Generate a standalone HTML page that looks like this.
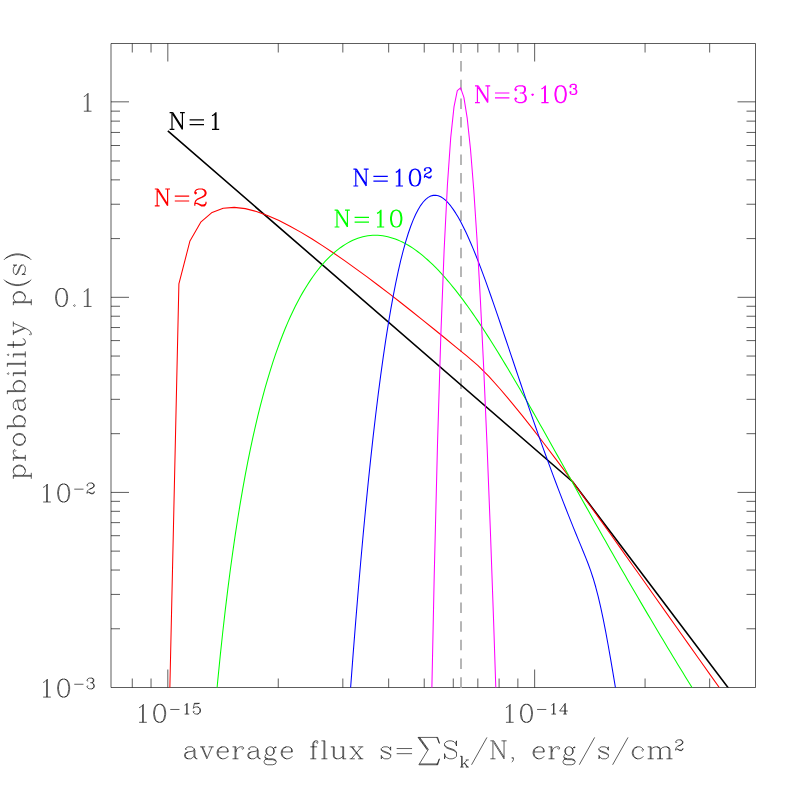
<!DOCTYPE html>
<html lang="en"><head><meta charset="utf-8"><title>Probability distribution of average flux</title>
<style>html,body{margin:0;padding:0;background:#fff;}body{width:797px;height:797px;overflow:hidden;font-family:"Liberation Serif",serif;}svg{display:block;}</style>
</head><body>
<svg width="797" height="797" viewBox="0 0 797 797" role="img" aria-label="Probability p(s) of average flux s for N=1, 2, 10, 100, 3000 sources"><path d="M111.0 43.5H755.5V687.5H111.0ZM132.27 687.5v-9.0M132.27 43.5v9.0M151.04 687.5v-9.0M151.04 43.5v9.0M167.82 687.5v-18.0M167.82 43.5v18.0M278.25 687.5v-9.0M278.25 43.5v9.0M342.84 687.5v-9.0M342.84 43.5v9.0M388.67 687.5v-9.0M388.67 43.5v9.0M424.22 687.5v-9.0M424.22 43.5v9.0M453.27 687.5v-9.0M453.27 43.5v9.0M477.83 687.5v-9.0M477.83 43.5v9.0M499.10 687.5v-9.0M499.10 43.5v9.0M517.86 687.5v-9.0M517.86 43.5v9.0M534.65 687.5v-18.0M534.65 43.5v18.0M645.07 687.5v-9.0M645.07 43.5v9.0M709.67 687.5v-9.0M709.67 43.5v9.0M111.0 628.77h9.0M755.5 628.77h-9.0M111.0 594.42h9.0M755.5 594.42h-9.0M111.0 570.04h9.0M755.5 570.04h-9.0M111.0 551.14h9.0M755.5 551.14h-9.0M111.0 535.69h9.0M755.5 535.69h-9.0M111.0 522.63h9.0M755.5 522.63h-9.0M111.0 511.32h9.0M755.5 511.32h-9.0M111.0 501.34h9.0M755.5 501.34h-9.0M111.0 492.41h18.0M755.5 492.41h-18.0M111.0 433.68h9.0M755.5 433.68h-9.0M111.0 399.33h9.0M755.5 399.33h-9.0M111.0 374.95h9.0M755.5 374.95h-9.0M111.0 356.05h9.0M755.5 356.05h-9.0M111.0 340.60h9.0M755.5 340.60h-9.0M111.0 327.54h9.0M755.5 327.54h-9.0M111.0 316.22h9.0M755.5 316.22h-9.0M111.0 306.25h9.0M755.5 306.25h-9.0M111.0 297.32h18.0M755.5 297.32h-18.0M111.0 238.59h9.0M755.5 238.59h-9.0M111.0 204.24h9.0M755.5 204.24h-9.0M111.0 179.86h9.0M755.5 179.86h-9.0M111.0 160.96h9.0M755.5 160.96h-9.0M111.0 145.51h9.0M755.5 145.51h-9.0M111.0 132.45h9.0M755.5 132.45h-9.0M111.0 121.13h9.0M755.5 121.13h-9.0M111.0 111.15h9.0M755.5 111.15h-9.0M111.0 101.83h18.0M755.5 101.83h-18.0" fill="none" stroke="#000" stroke-width="0.64"/>
<path d="M83.83 96.67L85.54 95.82L88.10 93.25L88.10 111.21M87.25 94.11L87.25 111.21M83.83 111.21L91.52 111.21" fill="none" stroke="#000" stroke-width="0.64" stroke-linejoin="round"/>
<path d="M60.74 288.49L58.18 289.35L56.47 291.91L55.61 296.19L55.61 298.75L56.47 303.03L58.18 305.59L60.74 306.45L62.45 306.45L65.02 305.59L66.73 303.03L67.58 298.75L67.58 296.19L66.73 291.91L65.02 289.35L62.45 288.49L60.74 288.49M60.74 288.49L59.03 289.35L58.18 290.20L57.32 291.91L56.47 296.19L56.47 298.75L57.32 303.03L58.18 304.74L59.03 305.59L60.74 306.45M62.45 306.45L64.16 305.59L65.02 304.74L65.88 303.03L66.73 298.75L66.73 296.19L65.88 291.91L65.02 290.20L64.16 289.35L62.45 288.49M74.42 304.74L73.57 305.59L74.42 306.45L75.28 305.59L74.42 304.74M83.83 291.91L85.54 291.06L88.10 288.49L88.10 306.45M87.25 289.35L87.25 306.45M83.83 306.45L91.53 306.45" fill="none" stroke="#000" stroke-width="0.64" stroke-linejoin="round"/>
<path d="M43.13 487.45L44.84 486.60L47.41 484.03L47.41 501.99M46.55 484.89L46.55 501.99M43.13 501.99L50.83 501.99M62.80 484.03L60.23 484.89L58.52 487.45L57.67 491.73L57.67 494.29L58.52 498.57L60.23 501.13L62.80 501.99L64.51 501.99L67.07 501.13L68.78 498.57L69.64 494.29L69.64 491.73L68.78 487.45L67.07 484.89L64.51 484.03L62.80 484.03M62.80 484.03L61.09 484.89L60.23 485.74L59.38 487.45L58.52 491.73L58.52 494.29L59.38 498.57L60.23 500.28L61.09 501.13L62.80 501.99M64.51 501.99L66.22 501.13L67.07 500.28L67.93 498.57L68.78 494.29L68.78 491.73L67.93 487.45L67.07 485.74L66.22 484.89L64.51 484.03M74.25 489.16L83.49 489.16M87.59 485.06L88.11 485.57L87.59 486.08L87.08 485.57L87.08 485.06L87.59 484.03L88.11 483.52L89.64 483.01L91.70 483.01L93.23 483.52L93.75 484.03L94.26 485.06L94.26 486.08L93.75 487.11L92.21 488.14L89.64 489.16L88.62 489.67L87.59 490.70L87.08 492.24L87.08 493.78M91.70 483.01L92.72 483.52L93.23 484.03L93.75 485.06L93.75 486.08L93.23 487.11L91.70 488.14L89.64 489.16M87.08 492.75L87.59 492.24L88.62 492.24L91.18 493.27L92.72 493.27L93.75 492.75L94.26 492.24M88.62 492.24L91.18 493.78L93.23 493.78L93.75 493.27L94.26 492.24L94.26 491.21" fill="none" stroke="#000" stroke-width="0.64" stroke-linejoin="round"/>
<path d="M43.13 682.54L44.84 681.69L47.41 679.12L47.41 697.08M46.55 679.98L46.55 697.08M43.13 697.08L50.83 697.08M62.80 679.12L60.23 679.98L58.52 682.54L57.67 686.82L57.67 689.38L58.52 693.66L60.23 696.22L62.80 697.08L64.51 697.08L67.07 696.22L68.78 693.66L69.64 689.38L69.64 686.82L68.78 682.54L67.07 679.98L64.51 679.12L62.80 679.12M62.80 679.12L61.09 679.98L60.23 680.83L59.38 682.54L58.52 686.82L58.52 689.38L59.38 693.66L60.23 695.37L61.09 696.22L62.80 697.08M64.51 697.08L66.22 696.22L67.07 695.37L67.93 693.66L68.78 689.38L68.78 686.82L67.93 682.54L67.07 680.83L66.22 679.98L64.51 679.12M74.25 684.25L83.49 684.25M87.59 680.15L88.11 680.66L87.59 681.17L87.08 680.66L87.08 680.15L87.59 679.12L88.11 678.61L89.64 678.10L91.70 678.10L93.23 678.61L93.75 679.64L93.75 681.17L93.23 682.20L91.70 682.71L90.16 682.71M91.70 678.10L92.72 678.61L93.23 679.64L93.23 681.17L92.72 682.20L91.70 682.71M91.70 682.71L92.72 683.23L93.75 684.25L94.26 685.28L94.26 686.82L93.75 687.84L93.23 688.36L91.70 688.87L89.64 688.87L88.11 688.36L87.59 687.84L87.08 686.82L87.08 686.30L87.59 685.79L88.11 686.30L87.59 686.82M93.23 683.74L93.75 685.28L93.75 686.82L93.23 687.84L92.72 688.36L91.70 688.87" fill="none" stroke="#000" stroke-width="0.64" stroke-linejoin="round"/>
<path d="M139.12 707.76L140.83 706.91L143.40 704.34L143.40 722.30M142.54 705.20L142.54 722.30M139.12 722.30L146.82 722.30M158.79 704.34L156.22 705.20L154.51 707.76L153.66 712.04L153.66 714.60L154.51 718.88L156.22 721.44L158.79 722.30L160.50 722.30L163.06 721.44L164.77 718.88L165.63 714.60L165.63 712.04L164.77 707.76L163.06 705.20L160.50 704.34L158.79 704.34M158.79 704.34L157.08 705.20L156.22 706.05L155.37 707.76L154.51 712.04L154.51 714.60L155.37 718.88L156.22 720.59L157.08 721.44L158.79 722.30M160.50 722.30L162.21 721.44L163.06 720.59L163.92 718.88L164.77 714.60L164.77 712.04L163.92 707.76L163.06 706.05L162.21 705.20L160.50 704.34M170.25 709.47L179.48 709.47M184.61 705.37L185.64 704.86L187.17 703.32L187.17 714.09M186.66 703.83L186.66 714.09M184.61 714.09L189.23 714.09M194.36 703.32L193.33 708.45M193.33 708.45L194.36 707.42L195.90 706.91L197.43 706.91L198.97 707.42L200.00 708.45L200.51 709.99L200.51 711.01L200.00 712.55L198.97 713.58L197.43 714.09L195.90 714.09L194.36 713.58L193.84 713.07L193.33 712.04L193.33 711.53L193.84 711.01L194.36 711.53L193.84 712.04M197.43 706.91L198.46 707.42L199.49 708.45L200.00 709.99L200.00 711.01L199.49 712.55L198.46 713.58L197.43 714.09M194.36 703.32L199.49 703.32M194.36 703.83L196.92 703.83L199.49 703.32" fill="none" stroke="#000" stroke-width="0.64" stroke-linejoin="round"/>
<path d="M505.95 707.76L507.66 706.91L510.22 704.34L510.22 722.30M509.37 705.20L509.37 722.30M505.95 722.30L513.64 722.30M525.61 704.34L523.05 705.20L521.34 707.76L520.48 712.04L520.48 714.60L521.34 718.88L523.05 721.44L525.61 722.30L527.32 722.30L529.89 721.44L531.60 718.88L532.45 714.60L532.45 712.04L531.60 707.76L529.89 705.20L527.32 704.34L525.61 704.34M525.61 704.34L523.90 705.20L523.05 706.05L522.19 707.76L521.34 712.04L521.34 714.60L522.19 718.88L523.05 720.59L523.90 721.44L525.61 722.30M527.32 722.30L529.03 721.44L529.89 720.59L530.74 718.88L531.60 714.60L531.60 712.04L530.74 707.76L529.89 706.05L529.03 705.20L527.32 704.34M537.07 709.47L546.31 709.47M551.44 705.37L552.46 704.86L554.00 703.32L554.00 714.09M553.49 703.83L553.49 714.09M551.44 714.09L556.05 714.09M564.77 704.34L564.77 714.09M565.29 703.32L565.29 714.09M565.29 703.32L559.64 711.01L567.85 711.01M563.23 714.09L566.83 714.09" fill="none" stroke="#000" stroke-width="0.64" stroke-linejoin="round"/>
<path d="M186.33 748.54L186.33 749.39L185.47 749.39L185.47 748.54L186.33 747.68L188.04 746.83L191.46 746.83L193.17 747.68L194.02 748.54L194.88 750.25L194.88 756.23L195.73 757.94L196.59 758.80M194.02 748.54L194.02 756.23L194.88 757.94L196.59 758.80L197.44 758.80M194.02 750.25L193.17 751.10L188.04 751.96L185.47 752.81L184.62 754.52L184.62 756.23L185.47 757.94L188.04 758.80L190.60 758.80L192.31 757.94L194.02 756.23M188.04 751.96L186.33 752.81L185.47 754.52L185.47 756.23L186.33 757.94L188.04 758.80M201.72 746.83L206.85 758.80M202.57 746.83L206.85 757.09M211.98 746.83L206.85 758.80M200.01 746.83L205.14 746.83M208.56 746.83L213.69 746.83M217.96 751.96L228.22 751.96L228.22 750.25L227.37 748.54L226.51 747.68L224.80 746.83L222.24 746.83L219.67 747.68L217.96 749.39L217.11 751.96L217.11 753.67L217.96 756.23L219.67 757.94L222.24 758.80L223.95 758.80L226.51 757.94L228.22 756.23M227.37 751.96L227.37 749.39L226.51 747.68M222.24 746.83L220.53 747.68L218.82 749.39L217.96 751.96L217.96 753.67L218.82 756.23L220.53 757.94L222.24 758.80M235.06 746.83L235.06 758.80M235.92 746.83L235.92 758.80M235.92 751.96L236.77 749.39L238.48 747.68L240.19 746.83L242.76 746.83L243.61 747.68L243.61 748.54L242.76 749.39L241.90 748.54L242.76 747.68M232.50 746.83L235.92 746.83M232.50 758.80L238.48 758.80M249.60 748.54L249.60 749.39L248.74 749.39L248.74 748.54L249.60 747.68L251.31 746.83L254.73 746.83L256.44 747.68L257.29 748.54L258.15 750.25L258.15 756.23L259.00 757.94L259.86 758.80M257.29 748.54L257.29 756.23L258.15 757.94L259.86 758.80L260.71 758.80M257.29 750.25L256.44 751.10L251.31 751.96L248.74 752.81L247.89 754.52L247.89 756.23L248.74 757.94L251.31 758.80L253.87 758.80L255.58 757.94L257.29 756.23M251.31 751.96L249.60 752.81L248.74 754.52L248.74 756.23L249.60 757.94L251.31 758.80M269.26 746.83L267.55 747.68L266.70 748.54L265.84 750.25L265.84 751.96L266.70 753.67L267.55 754.52L269.26 755.38L270.97 755.38L272.68 754.52L273.54 753.67L274.39 751.96L274.39 750.25L273.54 748.54L272.68 747.68L270.97 746.83L269.26 746.83M267.55 747.68L266.70 749.39L266.70 752.81L267.55 754.52M272.68 754.52L273.54 752.81L273.54 749.39L272.68 747.68M273.54 748.54L274.39 747.68L276.10 746.83L276.10 747.68L274.39 747.68M266.70 753.67L265.84 754.52L264.99 756.23L264.99 757.09L265.84 758.80L268.41 759.65L272.68 759.65L275.25 760.51L276.10 761.36M264.99 757.09L265.84 757.94L268.41 758.80L272.68 758.80L275.25 759.65L276.10 761.36L276.10 762.22L275.25 763.93L272.68 764.78L267.55 764.78L264.99 763.93L264.13 762.22L264.13 761.36L264.99 759.65L267.55 758.80M282.09 751.96L292.35 751.96L292.35 750.25L291.49 748.54L290.64 747.68L288.93 746.83L286.36 746.83L283.80 747.68L282.09 749.39L281.23 751.96L281.23 753.67L282.09 756.23L283.80 757.94L286.36 758.80L288.07 758.80L290.64 757.94L292.35 756.23M291.49 751.96L291.49 749.39L290.64 747.68M286.36 746.83L284.65 747.68L282.94 749.39L282.09 751.96L282.09 753.67L282.94 756.23L284.65 757.94L286.36 758.80M317.14 741.70L316.29 742.55L317.14 743.41L318.00 742.55L318.00 741.70L317.14 740.84L315.43 740.84L313.72 741.70L312.87 743.41L312.87 758.80M315.43 740.84L314.58 741.70L313.72 743.41L313.72 758.80M310.30 746.83L317.14 746.83M310.30 758.80L316.29 758.80M323.98 740.84L323.98 758.80M324.84 740.84L324.84 758.80M321.42 740.84L324.84 740.84M321.42 758.80L327.40 758.80M333.39 746.83L333.39 756.23L334.24 757.94L336.81 758.80L338.52 758.80L341.08 757.94L342.79 756.23M334.24 746.83L334.24 756.23L335.10 757.94L336.81 758.80M342.79 746.83L342.79 758.80M343.65 746.83L343.65 758.80M330.82 746.83L334.24 746.83M340.23 746.83L343.65 746.83M342.79 758.80L346.21 758.80M351.34 746.83L360.75 758.80M352.20 746.83L361.60 758.80M361.60 746.83L351.34 758.80M349.63 746.83L354.76 746.83M358.18 746.83L363.31 746.83M349.63 758.80L354.76 758.80M358.18 758.80L363.31 758.80M389.82 748.54L390.67 746.83L390.67 750.25L389.82 748.54L388.96 747.68L387.25 746.83L383.83 746.83L382.12 747.68L381.27 748.54L381.27 750.25L382.12 751.10L383.83 751.96L388.11 753.67L389.82 754.52L390.67 755.38M381.27 749.39L382.12 750.25L383.83 751.10L388.11 752.81L389.82 753.67L390.67 754.52L390.67 757.09L389.82 757.94L388.11 758.80L384.69 758.80L382.98 757.94L382.12 757.09L381.27 755.38L381.27 758.80L382.12 757.09M396.66 748.54L412.05 748.54M396.66 753.67L412.05 753.67M419.74 737.42L428.29 749.39L418.89 764.78M418.89 737.42L427.44 749.39M418.03 737.42L427.44 750.25M418.03 737.42L437.70 737.42L439.41 743.41L436.84 737.42M419.74 763.93L437.70 763.93M418.89 764.78L437.70 764.78L439.41 758.80L436.84 764.78M455.65 743.41L456.51 740.84L456.51 745.97L455.65 743.41L453.94 741.70L451.38 740.84L448.81 740.84L446.25 741.70L444.54 743.41L444.54 745.12L445.39 746.83L446.25 747.68L447.96 748.54L453.09 750.25L454.80 751.10L456.51 752.81M444.54 745.12L446.25 746.83L447.96 747.68L453.09 749.39L454.80 750.25L455.65 751.10L456.51 752.81L456.51 756.23L454.80 757.94L452.23 758.80L449.67 758.80L447.10 757.94L445.39 756.23L444.54 753.67L444.54 758.80L445.39 756.23M461.64 756.32L461.64 767.09M462.15 756.32L462.15 767.09M467.28 759.91L462.15 765.04M464.71 762.99L467.79 767.09M464.20 762.99L467.28 767.09M460.10 756.32L462.15 756.32M465.74 759.91L468.82 759.91M460.10 767.09L463.69 767.09M465.74 767.09L468.82 767.09M486.94 737.42L471.55 764.78M492.93 740.84L492.93 758.80M493.78 740.84L504.04 757.09M493.78 742.55L504.04 758.80M504.04 740.84L504.04 758.80M490.36 740.84L493.78 740.84M501.48 740.84L506.61 740.84M490.36 758.80L495.49 758.80M512.59 758.80L511.74 757.94L512.59 757.09L513.45 757.94L513.45 759.65L512.59 761.36L511.74 762.22M533.97 751.96L544.23 751.96L544.23 750.25L543.37 748.54L542.52 747.68L540.81 746.83L538.24 746.83L535.68 747.68L533.97 749.39L533.11 751.96L533.11 753.67L533.97 756.23L535.68 757.94L538.24 758.80L539.95 758.80L542.52 757.94L544.23 756.23M543.37 751.96L543.37 749.39L542.52 747.68M538.24 746.83L536.53 747.68L534.82 749.39L533.97 751.96L533.97 753.67L534.82 756.23L536.53 757.94L538.24 758.80M551.07 746.83L551.07 758.80M551.92 746.83L551.92 758.80M551.92 751.96L552.78 749.39L554.49 747.68L556.20 746.83L558.76 746.83L559.62 747.68L559.62 748.54L558.76 749.39L557.91 748.54L558.76 747.68M548.50 746.83L551.92 746.83M548.50 758.80L554.49 758.80M568.17 746.83L566.46 747.68L565.60 748.54L564.75 750.25L564.75 751.96L565.60 753.67L566.46 754.52L568.17 755.38L569.88 755.38L571.59 754.52L572.44 753.67L573.30 751.96L573.30 750.25L572.44 748.54L571.59 747.68L569.88 746.83L568.17 746.83M566.46 747.68L565.60 749.39L565.60 752.81L566.46 754.52M571.59 754.52L572.44 752.81L572.44 749.39L571.59 747.68M572.44 748.54L573.30 747.68L575.01 746.83L575.01 747.68L573.30 747.68M565.60 753.67L564.75 754.52L563.89 756.23L563.89 757.09L564.75 758.80L567.31 759.65L571.59 759.65L574.15 760.51L575.01 761.36M563.89 757.09L564.75 757.94L567.31 758.80L571.59 758.80L574.15 759.65L575.01 761.36L575.01 762.22L574.15 763.93L571.59 764.78L566.46 764.78L563.89 763.93L563.04 762.22L563.04 761.36L563.89 759.65L566.46 758.80M594.67 737.42L579.28 764.78M607.50 748.54L608.35 746.83L608.35 750.25L607.50 748.54L606.64 747.68L604.93 746.83L601.51 746.83L599.80 747.68L598.95 748.54L598.95 750.25L599.80 751.10L601.51 751.96L605.79 753.67L607.50 754.52L608.35 755.38M598.95 749.39L599.80 750.25L601.51 751.10L605.79 752.81L607.50 753.67L608.35 754.52L608.35 757.09L607.50 757.94L605.79 758.80L602.37 758.80L600.66 757.94L599.80 757.09L598.95 755.38L598.95 758.80L599.80 757.09M628.02 737.42L612.63 764.78M642.55 749.39L641.70 750.25L642.55 751.10L643.41 750.25L643.41 749.39L641.70 747.68L639.99 746.83L637.42 746.83L634.86 747.68L633.15 749.39L632.29 751.96L632.29 753.67L633.15 756.23L634.86 757.94L637.42 758.80L639.13 758.80L641.70 757.94L643.41 756.23M637.42 746.83L635.71 747.68L634.00 749.39L633.15 751.96L633.15 753.67L634.00 756.23L635.71 757.94L637.42 758.80M650.25 746.83L650.25 758.80M651.10 746.83L651.10 758.80M651.10 749.39L652.81 747.68L655.38 746.83L657.09 746.83L659.65 747.68L660.51 749.39L660.51 758.80M657.09 746.83L658.80 747.68L659.65 749.39L659.65 758.80M660.51 749.39L662.22 747.68L664.78 746.83L666.49 746.83L669.06 747.68L669.91 749.39L669.91 758.80M666.49 746.83L668.20 747.68L669.06 749.39L669.06 758.80M647.68 746.83L651.10 746.83M647.68 758.80L653.67 758.80M657.09 758.80L663.07 758.80M666.49 758.80L672.48 758.80M676.24 741.87L676.75 742.38L676.24 742.90L675.73 742.38L675.73 741.87L676.24 740.84L676.75 740.33L678.29 739.82L680.35 739.82L681.88 740.33L682.40 740.84L682.91 741.87L682.91 742.90L682.40 743.92L680.86 744.95L678.29 745.97L677.27 746.49L676.24 747.51L675.73 749.05L675.73 750.59M680.35 739.82L681.37 740.33L681.88 740.84L682.40 741.87L682.40 742.90L681.88 743.92L680.35 744.95L678.29 745.97M675.73 749.57L676.24 749.05L677.27 749.05L679.83 750.08L681.37 750.08L682.40 749.57L682.91 749.05M677.27 749.05L679.83 750.59L681.88 750.59L682.40 750.08L682.91 749.05L682.91 748.03" fill="none" stroke="#000" stroke-width="0.64" stroke-linejoin="round"/>
<path d="M13.33 476.22L31.29 476.22M13.33 475.37L31.29 475.37M15.89 475.37L14.19 473.66L13.33 471.95L13.33 470.24L14.19 467.67L15.89 465.96L18.46 465.11L20.17 465.11L22.73 465.96L24.45 467.67L25.30 470.24L25.30 471.95L24.45 473.66L22.73 475.37M13.33 470.24L14.19 468.53L15.89 466.82L18.46 465.96L20.17 465.96L22.73 466.82L24.45 468.53L25.30 470.24M13.33 478.79L13.33 475.37M31.29 478.79L31.29 472.80M13.33 458.27L25.30 458.27M13.33 457.41L25.30 457.41M18.46 457.41L15.89 456.56L14.19 454.85L13.33 453.14L13.33 450.57L14.19 449.72L15.04 449.72L15.89 450.57L15.04 451.43L14.19 450.57M13.33 460.83L13.33 457.41M25.30 460.83L25.30 454.85M13.33 440.31L14.19 442.88L15.89 444.59L18.46 445.44L20.17 445.44L22.73 444.59L24.45 442.88L25.30 440.31L25.30 438.60L24.45 436.04L22.73 434.33L20.17 433.47L18.46 433.47L15.89 434.33L14.19 436.04L13.33 438.60L13.33 440.31M13.33 440.31L14.19 442.02L15.89 443.73L18.46 444.59L20.17 444.59L22.73 443.73L24.45 442.02L25.30 440.31M25.30 438.60L24.45 436.89L22.73 435.18L20.17 434.33L18.46 434.33L15.89 435.18L14.19 436.89L13.33 438.60M7.35 426.63L25.30 426.63M7.35 425.78L25.30 425.78M15.89 425.78L14.19 424.07L13.33 422.36L13.33 420.65L14.19 418.08L15.89 416.37L18.46 415.52L20.17 415.52L22.73 416.37L24.45 418.08L25.30 420.65L25.30 422.36L24.45 424.07L22.73 425.78M13.33 420.65L14.19 418.94L15.89 417.23L18.46 416.37L20.17 416.37L22.73 417.23L24.45 418.94L25.30 420.65M7.35 429.20L7.35 425.78M15.04 408.68L15.89 408.68L15.89 409.53L15.04 409.53L14.19 408.68L13.33 406.97L13.33 403.55L14.19 401.84L15.04 400.98L16.75 400.13L22.73 400.13L24.45 399.27L25.30 398.42M15.04 400.98L22.73 400.98L24.45 400.13L25.30 398.42L25.30 397.56M16.75 400.98L17.61 401.84L18.46 406.97L19.32 409.53L21.02 410.39L22.73 410.39L24.45 409.53L25.30 406.97L25.30 404.40L24.45 402.69L22.73 400.98M18.46 406.97L19.32 408.68L21.02 409.53L22.73 409.53L24.45 408.68L25.30 406.97M7.35 391.58L25.30 391.58M7.35 390.72L25.30 390.72M15.89 390.72L14.19 389.01L13.33 387.30L13.33 385.59L14.19 383.03L15.89 381.32L18.46 380.46L20.17 380.46L22.73 381.32L24.45 383.03L25.30 385.59L25.30 387.30L24.45 389.01L22.73 390.72M13.33 385.59L14.19 383.88L15.89 382.17L18.46 381.32L20.17 381.32L22.73 382.17L24.45 383.88L25.30 385.59M7.35 394.14L7.35 390.72M7.35 373.62L8.20 374.48L9.05 373.62L8.20 372.77L7.35 373.62M13.33 373.62L25.30 373.62M13.33 372.77L25.30 372.77M13.33 376.19L13.33 372.77M25.30 376.19L25.30 370.20M7.35 364.22L25.30 364.22M7.35 363.36L25.30 363.36M7.35 366.78L7.35 363.36M25.30 366.78L25.30 360.80M7.35 354.81L8.20 355.67L9.05 354.81L8.20 353.96L7.35 354.81M13.33 354.81L25.30 354.81M13.33 353.96L25.30 353.96M13.33 357.38L13.33 353.96M25.30 357.38L25.30 351.39M7.35 345.41L21.88 345.41L24.45 344.55L25.30 342.84L25.30 341.13L24.45 339.42L22.73 338.57M7.35 344.55L21.88 344.55L24.45 343.70L25.30 342.84M13.33 347.97L13.33 341.13M13.33 333.44L25.30 328.31M13.33 332.58L23.59 328.31M13.33 323.18L25.30 328.31L28.72 330.02L30.43 331.73L31.29 333.44L31.29 334.29L30.43 335.15L29.57 334.29L30.43 333.44M13.33 335.15L13.33 330.02M13.33 326.60L13.33 321.47M13.33 302.66L31.29 302.66M13.33 301.80L31.29 301.80M15.89 301.80L14.19 300.09L13.33 298.38L13.33 296.67L14.19 294.11L15.89 292.40L18.46 291.54L20.17 291.54L22.73 292.40L24.45 294.11L25.30 296.67L25.30 298.38L24.45 300.09L22.73 301.80M13.33 296.67L14.19 294.96L15.89 293.25L18.46 292.40L20.17 292.40L22.73 293.25L24.45 294.96L25.30 296.67M13.33 305.22L13.33 301.80M31.29 305.22L31.29 299.24M3.93 279.57L5.64 281.28L8.20 282.99L11.62 284.70L15.89 285.56L19.32 285.56L23.59 284.70L27.01 282.99L29.57 281.28L31.29 279.57M5.64 281.28L9.05 282.99L11.62 283.85L15.89 284.70L19.32 284.70L23.59 283.85L26.16 282.99L29.57 281.28M15.04 265.89L13.33 265.04L16.75 265.04L15.04 265.89L14.19 266.75L13.33 268.46L13.33 271.88L14.19 273.59L15.04 274.44L16.75 274.44L17.61 273.59L18.46 271.88L20.17 267.60L21.02 265.89L21.88 265.04M15.89 274.44L16.75 273.59L17.61 271.88L19.32 267.60L20.17 265.89L21.02 265.04L23.59 265.04L24.45 265.89L25.30 267.60L25.30 271.02L24.45 272.73L23.59 273.59L21.88 274.44L25.30 274.44L23.59 273.59M3.93 259.91L5.64 258.20L8.20 256.49L11.62 254.78L15.89 253.92L19.32 253.92L23.59 254.78L27.01 256.49L29.57 258.20L31.29 259.91M5.64 258.20L9.05 256.49L11.62 255.63L15.89 254.78L19.32 254.78L23.59 255.63L26.16 256.49L29.57 258.20" fill="none" stroke="#000" stroke-width="0.64" stroke-linejoin="round"/>
<clipPath id="fr"><rect x="111.0" y="43.5" width="644.5" height="644.0"/></clipPath>
<path d="M461.0 687.7V43.5" fill="none" stroke="#b6b6b6" stroke-width="2" stroke-dasharray="10.5 8.17"/>
<path clip-path="url(#fr)" d="M167.82 130.87L572.60 481.77L730.95 691.47" fill="none" stroke="#000" stroke-width="1.6" stroke-linejoin="round"/>
<path clip-path="url(#fr)" d="M167.82 779.28L178.89 283.98L189.96 240.95L201.03 221.81L212.10 212.46L223.17 208.30L234.24 207.37L245.31 208.62L256.38 211.44L267.45 215.44L278.52 220.33L289.59 225.95L300.66 232.13L311.73 238.81L322.80 245.86L333.87 253.24L344.94 260.91L356.01 268.82L367.08 276.94L378.15 285.23L389.22 293.69L400.29 302.28L411.36 310.99L422.43 319.82L433.50 328.73L444.57 337.72L455.64 346.80L466.71 355.94L477.78 365.30L488.85 376.42L499.92 388.75L510.99 401.83L522.06 415.42L533.13 429.42L544.20 443.73L555.27 458.32L566.34 473.16L577.41 488.22L588.48 503.45L599.55 518.83L610.62 534.30L621.69 549.84L632.76 565.44L643.83 581.06L654.90 596.70L665.97 612.35L677.04 627.99L688.11 643.63L699.18 659.24L710.25 674.84L721.32 690.41L732.39 705.95L743.46 721.47L754.53 736.95L765.60 752.41L776.67 767.83L787.74 783.22L798.81 798.57L809.88 813.90L820.95 829.19" fill="none" stroke="#ff0000" stroke-width="1.05" stroke-linejoin="round"/>
<path clip-path="url(#fr)" d="M167.82 1858.04L170.32 1858.04L172.82 1858.04L175.32 1858.04L177.82 1693.75L180.32 1538.55L182.82 1413.91L185.32 1310.38L187.82 1222.55L190.32 1146.46L192.82 1079.82L195.32 1020.48L197.82 967.46L200.32 919.72L202.82 876.25L205.32 836.55L207.82 800.15L210.32 766.62L212.82 735.50L215.32 706.66L217.82 679.88L220.32 654.88L222.82 631.49L225.32 609.63L227.82 589.07L230.32 569.75L232.82 551.56L235.32 534.40L237.82 518.21L240.32 502.89L242.82 488.40L245.32 474.70L247.82 461.68L250.32 449.36L252.82 437.63L255.32 426.51L257.82 415.94L260.32 405.90L262.82 396.32L265.32 387.22L267.82 378.56L270.32 370.31L272.82 362.45L275.32 354.94L277.82 347.80L280.32 340.99L282.82 334.50L285.32 328.31L287.82 322.41L290.32 316.79L292.82 311.42L295.32 306.32L297.82 301.44L300.32 296.81L302.82 292.38L305.32 288.18L307.82 284.18L310.32 280.36L312.82 276.74L315.32 273.30L317.82 270.03L320.32 266.92L322.82 263.99L325.32 261.21L327.82 258.59L330.32 256.12L332.82 253.80L335.32 251.62L337.82 249.59L340.32 247.70L342.82 245.95L345.32 244.34L347.82 242.86L350.32 241.52L352.82 240.32L355.32 239.24L357.82 238.30L360.32 237.48L362.82 236.80L365.32 236.24L367.82 235.81L370.32 235.50L372.82 235.32L375.32 235.26L377.82 235.32L380.32 235.50L382.82 235.80L385.32 236.21L387.82 236.75L390.32 237.39L392.82 238.15L395.32 239.03L397.82 240.01L400.32 241.11L402.82 242.31L405.32 243.62L407.82 245.04L410.32 246.56L412.82 248.18L415.32 249.90L417.82 251.73L420.32 253.65L422.82 255.67L425.32 257.78L427.82 259.99L430.32 262.29L432.82 264.68L435.32 267.16L437.82 269.72L440.32 272.37L442.82 275.10L445.32 277.91L447.82 280.80L450.32 283.77L452.82 286.81L455.32 289.93L457.82 293.11L460.32 296.37L462.82 299.69L465.32 303.08L467.82 306.52L470.32 310.03L472.82 313.60L475.32 317.22L477.82 320.90L480.32 324.63L482.82 328.41L485.32 332.24L487.82 336.12L490.32 340.04L492.82 344.00L495.32 348.00L497.82 352.04L500.32 356.12L502.82 360.23L505.32 364.37L507.82 368.55L510.32 372.75L512.82 376.98L515.32 381.24L517.82 385.52L520.32 389.83L522.82 394.15L525.32 398.50L527.82 402.86L530.32 407.24L532.82 411.63L535.32 416.04L537.82 420.46L540.32 424.89L542.82 429.34L545.32 433.78L547.82 438.24L550.32 442.71L552.82 447.18L555.32 451.65L557.82 456.13L560.32 460.61L562.82 465.09L565.32 469.58L567.82 474.06L570.32 478.54L572.82 483.02L575.32 487.50L577.82 491.98L580.32 496.45L582.82 500.91L585.32 505.38L587.82 509.84L590.32 514.29L592.82 518.74L595.32 523.18L597.82 527.61L600.32 532.03L602.82 536.45L605.32 540.86L607.82 545.26L610.32 549.66L612.82 554.04L615.32 558.41L617.82 562.78L620.32 567.14L622.82 571.48L625.32 575.82L627.82 580.14L630.32 584.46L632.82 588.76L635.32 593.06L637.82 597.34L640.32 601.61L642.82 605.87L645.32 610.13L647.82 614.37L650.32 618.60L652.82 622.82L655.32 627.02L657.82 631.22L660.32 635.41L662.82 639.58L665.32 643.74L667.82 647.90L670.32 652.04L672.82 656.17L675.32 660.29L677.82 664.40L680.32 668.50L682.82 672.59L685.32 676.67L687.82 680.74L690.32 684.79L692.82 688.84L695.32 692.88L697.82 696.91L700.32 700.92L702.82 704.93L705.32 708.93L707.82 712.91L710.32 716.89L712.82 720.86L715.32 724.82L717.82 728.77L720.32 732.71L722.82 736.64L725.32 740.56L727.82 744.47L730.32 748.38L732.82 752.27L735.32 756.16L737.82 760.03L740.32 763.90L742.82 767.76L745.32 771.62L747.82 775.46L750.32 779.30L752.82 783.13L755.32 786.95L757.82 790.76L760.32 794.57L762.82 798.36L765.32 802.15" fill="none" stroke="#00ff00" stroke-width="1.05" stroke-linejoin="round"/>
<path clip-path="url(#fr)" d="M168.22 1858.04L170.72 1858.04L173.22 1858.04L175.72 1858.04L178.22 1858.04L180.72 1858.04L183.22 1858.04L185.72 1858.04L188.22 1858.04L190.72 1858.04L193.22 1858.04L195.72 1858.04L198.22 1858.04L200.72 1858.04L203.22 1858.04L205.72 1858.04L208.22 1858.04L210.72 1858.04L213.22 1858.04L215.72 1858.04L218.22 1858.04L220.72 1858.04L223.22 1858.04L225.72 1858.04L228.22 1858.04L230.72 1858.04L233.22 1858.04L235.72 1858.04L238.22 1858.04L240.72 1858.04L243.22 1858.04L245.72 1858.04L248.22 1858.04L250.72 1858.04L253.22 1858.04L255.72 1858.04L258.22 1858.04L260.72 1858.04L263.22 1858.04L265.72 1858.04L268.22 1858.04L270.72 1858.04L273.22 1858.04L275.72 1858.04L278.22 1858.04L280.72 1858.04L283.22 1858.04L285.72 1858.04L288.22 1858.04L290.72 1858.04L293.22 1858.04L295.72 1854.97L298.22 1779.46L300.72 1706.60L303.22 1636.23L305.72 1568.32L308.22 1502.72L310.72 1439.42L313.22 1378.32L315.72 1319.33L318.22 1262.37L320.72 1207.45L323.22 1154.48L325.72 1103.35L328.22 1054.09L330.72 1006.61L333.22 960.86L335.72 916.83L338.22 874.45L340.72 833.69L343.22 794.51L345.72 756.86L348.22 720.75L350.72 686.10L353.22 652.90L355.72 621.13L358.22 590.73L360.72 561.69L363.22 533.99L365.72 507.59L368.22 482.46L370.72 458.59L373.22 435.93L375.72 414.49L378.22 394.21L380.72 375.08L383.22 357.08L385.72 340.17L388.22 324.34L390.72 309.57L393.22 295.82L395.72 283.07L398.22 271.30L400.72 260.49L403.22 250.60L405.72 241.62L408.22 233.52L410.72 226.28L413.22 219.86L415.72 214.25L418.22 209.42L420.72 205.34L423.22 202.00L425.72 199.35L428.22 197.39L430.72 196.07L433.22 195.38L435.72 195.30L438.22 195.78L440.72 196.82L443.22 198.38L445.72 200.44L448.22 202.97L450.72 205.95L453.22 209.35L455.72 213.15L458.22 217.32L460.72 221.85L463.22 226.70L465.72 231.85L468.22 237.29L470.72 242.98L473.22 248.92L475.72 255.06L478.22 261.41L480.72 267.93L483.22 274.62L485.72 281.44L488.22 288.39L490.72 295.45L493.22 302.60L495.72 309.82L498.22 317.11L500.72 324.46L503.22 331.84L505.72 339.25L508.22 346.67L510.72 354.11L513.22 361.54L515.72 368.96L518.22 376.37L520.72 383.75L523.22 391.10L525.72 398.42L528.22 405.70L530.72 412.93L533.22 420.12L535.72 427.25L538.22 434.34L540.72 441.36L543.22 448.33L545.72 455.24L548.22 462.08L550.72 468.86L553.22 475.59L555.72 482.24L558.22 488.84L560.72 495.37L563.22 501.84L565.72 508.24L568.22 514.58L570.72 520.86L573.22 527.08L575.72 533.24L578.22 539.34L580.72 545.40L583.22 551.45L585.72 557.59L588.22 563.99L590.72 570.86L593.22 578.47L595.72 587.02L598.22 596.65L600.72 607.39L603.22 619.19L605.72 631.94L608.22 645.50L610.72 659.68L613.22 674.33L615.72 689.30L618.22 704.47L620.72 719.73L623.22 735.01L625.72 750.26L628.22 765.44L630.72 780.54L633.22 795.54L635.72 810.45L638.22 825.29L640.72 840.06L643.22 854.81L645.72 869.55L648.22 884.31L650.72 899.14L653.22 914.08L655.72 929.17L658.22 944.47L660.72 960.05L663.22 975.98L665.72 992.36L668.22 1009.32L670.72 1027.00L673.22 1045.59L675.72 1065.27L678.22 1086.11L680.72 1108.01L683.22 1130.73L685.72 1153.99L688.22 1177.53L690.72 1201.16L693.22 1224.79L695.72 1248.37L698.22 1271.92L700.72 1295.49L703.22 1319.15L705.72 1342.97L708.22 1367.05L710.72 1391.48L713.22 1416.37L715.72 1441.84L718.22 1467.99L720.72 1494.97L723.22 1522.88L725.72 1551.84L728.22 1581.90L730.72 1612.99L733.22 1644.88L735.72 1677.27L738.22 1709.90L740.72 1742.66L743.22 1775.55L745.72 1808.66L748.22 1842.11L750.72 1858.04L753.22 1858.04L755.72 1858.04L758.22 1858.04L760.72 1858.04L763.22 1858.04L765.72 1858.04" fill="none" stroke="#0000ff" stroke-width="1.05" stroke-linejoin="round"/>
<path clip-path="url(#fr)" d="M421.00 1389.61L424.30 1139.49L427.60 921.98L430.90 735.01L434.20 576.51L437.50 444.37L440.80 336.49L444.10 250.78L447.40 185.21L450.70 137.84L454.00 106.85L457.30 90.66L460.60 87.88L463.90 97.34L467.20 118.08L470.50 149.30L473.80 190.38L477.10 240.79L480.40 300.11L483.70 368.02L487.00 444.26L490.30 528.60L493.60 620.90L496.90 721.03L500.20 828.92L503.50 944.49" fill="none" stroke="#ff00ff" stroke-width="1.05" stroke-linejoin="round"/>
<path d="M172.00 112.60L172.00 129.40M172.80 112.60L182.40 127.80M172.80 114.20L182.40 129.40M182.40 112.60L182.40 129.40M169.60 112.60L172.80 112.60M180.00 112.60L184.80 112.60M169.60 129.40L174.40 129.40M189.60 119.80L204.00 119.80M189.60 124.60L204.00 124.60M212.00 115.80L213.60 115.00L216.00 112.60L216.00 129.40M215.20 113.40L215.20 129.40M212.00 129.40L219.20 129.40" fill="none" stroke="#000" stroke-width="1.18" stroke-linejoin="round"/>
<path d="M157.20 189.00L157.20 205.80M158.00 189.00L167.60 204.20M158.00 190.60L167.60 205.80M167.60 189.00L167.60 205.80M154.80 189.00L158.00 189.00M165.20 189.00L170.00 189.00M154.80 205.80L159.60 205.80M174.80 196.20L189.20 196.20M174.80 201.00L189.20 201.00M195.60 192.20L196.40 193.00L195.60 193.80L194.80 193.00L194.80 192.20L195.60 190.60L196.40 189.80L198.80 189.00L202.00 189.00L204.40 189.80L205.20 190.60L206.00 192.20L206.00 193.80L205.20 195.40L202.80 197.00L198.80 198.60L197.20 199.40L195.60 201.00L194.80 203.40L194.80 205.80M202.00 189.00L203.60 189.80L204.40 190.60L205.20 192.20L205.20 193.80L204.40 195.40L202.00 197.00L198.80 198.60M194.80 204.20L195.60 203.40L197.20 203.40L201.20 205.00L203.60 205.00L205.20 204.20L206.00 203.40M197.20 203.40L201.20 205.80L204.40 205.80L205.20 205.00L206.00 203.40L206.00 201.80" fill="none" stroke="#ff0000" stroke-width="1.18" stroke-linejoin="round"/>
<path d="M337.00 210.20L337.00 227.00M337.80 210.20L347.40 225.40M337.80 211.80L347.40 227.00M347.40 210.20L347.40 227.00M334.60 210.20L337.80 210.20M345.00 210.20L349.80 210.20M334.60 227.00L339.40 227.00M354.60 217.40L369.00 217.40M354.60 222.20L369.00 222.20M377.00 213.40L378.60 212.60L381.00 210.20L381.00 227.00M380.20 211.00L380.20 227.00M377.00 227.00L384.20 227.00M395.40 210.20L393.00 211.00L391.40 213.40L390.60 217.40L390.60 219.80L391.40 223.80L393.00 226.20L395.40 227.00L397.00 227.00L399.40 226.20L401.00 223.80L401.80 219.80L401.80 217.40L401.00 213.40L399.40 211.00L397.00 210.20L395.40 210.20M395.40 210.20L393.80 211.00L393.00 211.80L392.20 213.40L391.40 217.40L391.40 219.80L392.20 223.80L393.00 225.40L393.80 226.20L395.40 227.00M397.00 227.00L398.60 226.20L399.40 225.40L400.20 223.80L401.00 219.80L401.00 217.40L400.20 213.40L399.40 211.80L398.60 211.00L397.00 210.20" fill="none" stroke="#00ff00" stroke-width="1.18" stroke-linejoin="round"/>
<path d="M355.80 169.20L355.80 186.00M356.60 169.20L366.20 184.40M356.60 170.80L366.20 186.00M366.20 169.20L366.20 186.00M353.40 169.20L356.60 169.20M363.80 169.20L368.60 169.20M353.40 186.00L358.20 186.00M373.40 176.40L387.80 176.40M373.40 181.20L387.80 181.20M395.80 172.40L397.40 171.60L399.80 169.20L399.80 186.00M399.00 170.00L399.00 186.00M395.80 186.00L403.00 186.00M414.20 169.20L411.80 170.00L410.20 172.40L409.40 176.40L409.40 178.80L410.20 182.80L411.80 185.20L414.20 186.00L415.80 186.00L418.20 185.20L419.80 182.80L420.60 178.80L420.60 176.40L419.80 172.40L418.20 170.00L415.80 169.20L414.20 169.20M414.20 169.20L412.60 170.00L411.80 170.80L411.00 172.40L410.20 176.40L410.20 178.80L411.00 182.80L411.80 184.40L412.60 185.20L414.20 186.00M415.80 186.00L417.40 185.20L418.20 184.40L419.00 182.80L419.80 178.80L419.80 176.40L419.00 172.40L418.20 170.80L417.40 170.00L415.80 169.20M424.92 169.68L425.40 170.16L424.92 170.64L424.44 170.16L424.44 169.68L424.92 168.72L425.40 168.24L426.84 167.76L428.76 167.76L430.20 168.24L430.68 168.72L431.16 169.68L431.16 170.64L430.68 171.60L429.24 172.56L426.84 173.52L425.88 174.00L424.92 174.96L424.44 176.40L424.44 177.84M428.76 167.76L429.72 168.24L430.20 168.72L430.68 169.68L430.68 170.64L430.20 171.60L428.76 172.56L426.84 173.52M424.44 176.88L424.92 176.40L425.88 176.40L428.28 177.36L429.72 177.36L430.68 176.88L431.16 176.40M425.88 176.40L428.28 177.84L430.20 177.84L430.68 177.36L431.16 176.40L431.16 175.44" fill="none" stroke="#0000ff" stroke-width="1.18" stroke-linejoin="round"/>
<path d="M477.40 85.80L477.40 102.60M478.20 85.80L487.80 101.00M478.20 87.40L487.80 102.60M487.80 85.80L487.80 102.60M475.00 85.80L478.20 85.80M485.40 85.80L490.20 85.80M475.00 102.60L479.80 102.60M495.00 93.00L509.40 93.00M495.00 97.80L509.40 97.80M515.80 89.00L516.60 89.80L515.80 90.60L515.00 89.80L515.00 89.00L515.80 87.40L516.60 86.60L519.00 85.80L522.20 85.80L524.60 86.60L525.40 88.20L525.40 90.60L524.60 92.20L522.20 93.00L519.80 93.00M522.20 85.80L523.80 86.60L524.60 88.20L524.60 90.60L523.80 92.20L522.20 93.00M522.20 93.00L523.80 93.80L525.40 95.40L526.20 97.00L526.20 99.40L525.40 101.00L524.60 101.80L522.20 102.60L519.00 102.60L516.60 101.80L515.80 101.00L515.00 99.40L515.00 98.60L515.80 97.80L516.60 98.60L515.80 99.40M524.60 94.60L525.40 97.00L525.40 99.40L524.60 101.00L523.80 101.80L522.20 102.60M532.60 93.80L531.80 94.60L532.60 95.40L533.40 94.60L532.60 93.80M541.40 89.00L543.00 88.20L545.40 85.80L545.40 102.60M544.60 86.60L544.60 102.60M541.40 102.60L548.60 102.60M559.80 85.80L557.40 86.60L555.80 89.00L555.00 93.00L555.00 95.40L555.80 99.40L557.40 101.80L559.80 102.60L561.40 102.60L563.80 101.80L565.40 99.40L566.20 95.40L566.20 93.00L565.40 89.00L563.80 86.60L561.40 85.80L559.80 85.80M559.80 85.80L558.20 86.60L557.40 87.40L556.60 89.00L555.80 93.00L555.80 95.40L556.60 99.40L557.40 101.00L558.20 101.80L559.80 102.60M561.40 102.60L563.00 101.80L563.80 101.00L564.60 99.40L565.40 95.40L565.40 93.00L564.60 89.00L563.80 87.40L563.00 86.60L561.40 85.80M570.52 86.28L571.00 86.76L570.52 87.24L570.04 86.76L570.04 86.28L570.52 85.32L571.00 84.84L572.44 84.36L574.36 84.36L575.80 84.84L576.28 85.80L576.28 87.24L575.80 88.20L574.36 88.68L572.92 88.68M574.36 84.36L575.32 84.84L575.80 85.80L575.80 87.24L575.32 88.20L574.36 88.68M574.36 88.68L575.32 89.16L576.28 90.12L576.76 91.08L576.76 92.52L576.28 93.48L575.80 93.96L574.36 94.44L572.44 94.44L571.00 93.96L570.52 93.48L570.04 92.52L570.04 92.04L570.52 91.56L571.00 92.04L570.52 92.52M575.80 89.64L576.28 91.08L576.28 92.52L575.80 93.48L575.32 93.96L574.36 94.44" fill="none" stroke="#ff00ff" stroke-width="1.18" stroke-linejoin="round"/></svg>
</body></html>
